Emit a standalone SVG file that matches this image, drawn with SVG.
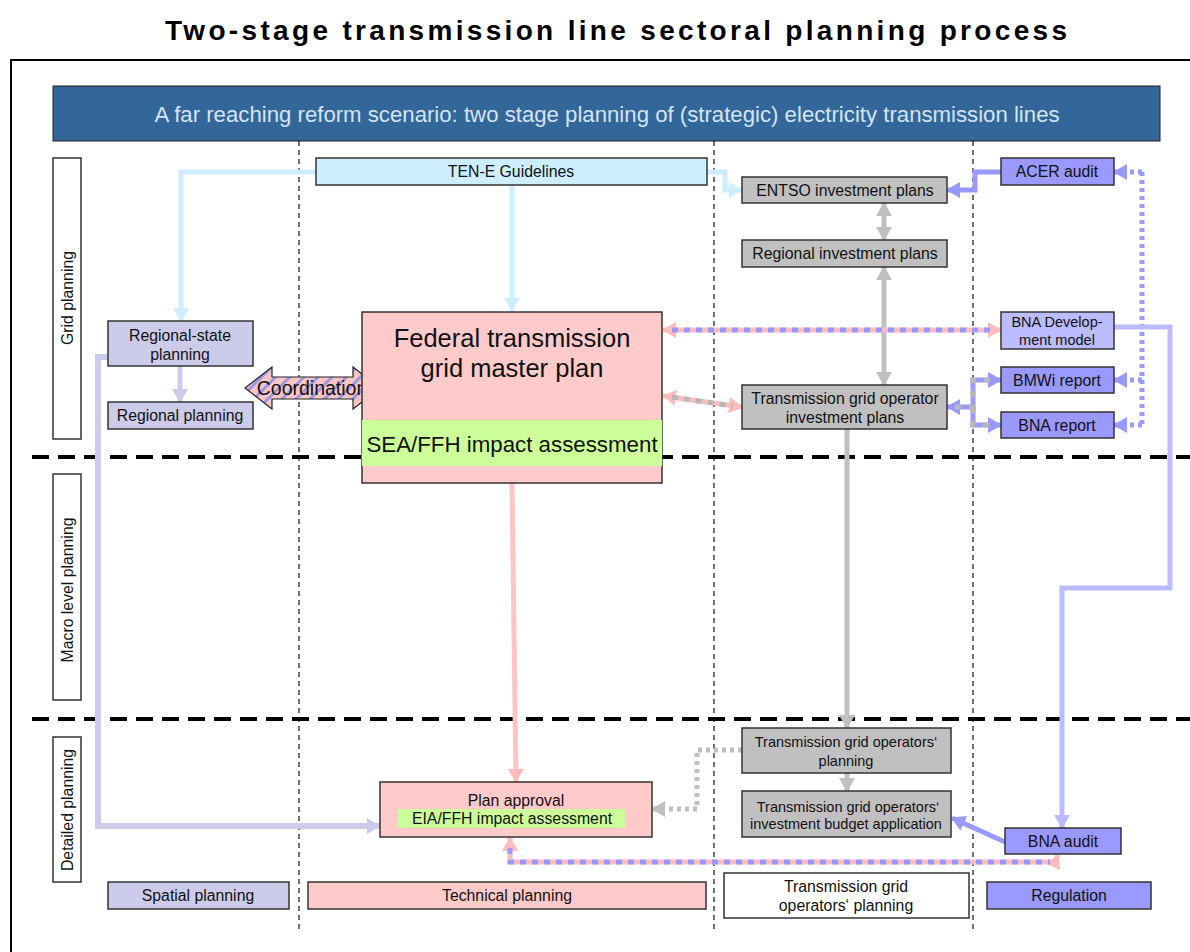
<svg xmlns="http://www.w3.org/2000/svg" width="1190" height="952" viewBox="0 0 1190 952">
<style>
text{font-family:"Liberation Sans",Arial,sans-serif;fill:#111;text-anchor:middle}
.n{stroke:#333;stroke-width:1.5}
.t14{font-size:15.8px}
.t13{font-size:14.5px}
.lav{fill:#ccccea}
.gray{fill:#c0c0c0}
.blue{fill:#9999ff}
.ltb{fill:#cdeeff}
.pink{fill:#ffcaca}
.c{fill:none;stroke-width:5}
.vd{stroke:#111;stroke-width:1.2;stroke-dasharray:5 4}
.hd{stroke:#000;stroke-width:4;stroke-dasharray:17 9}
</style>
<defs>
<marker id="aLB" markerUnits="userSpaceOnUse" markerWidth="14" markerHeight="16" refX="13" refY="8" orient="auto-start-reverse"><path d="M0,0 L14,8 L0,16z" fill="#cdeeff"/></marker>
<marker id="aLav" markerUnits="userSpaceOnUse" markerWidth="14" markerHeight="16" refX="13" refY="8" orient="auto-start-reverse"><path d="M0,0 L14,8 L0,16z" fill="#ccccea"/></marker>
<marker id="aG" markerUnits="userSpaceOnUse" markerWidth="14" markerHeight="16" refX="13" refY="8" orient="auto-start-reverse"><path d="M0,0 L14,8 L0,16z" fill="#c0c0c0"/></marker>
<marker id="aB" markerUnits="userSpaceOnUse" markerWidth="14" markerHeight="16" refX="13" refY="8" orient="auto-start-reverse"><path d="M0,0 L14,8 L0,16z" fill="#9999ff"/></marker>
<marker id="aLtB" markerUnits="userSpaceOnUse" markerWidth="14" markerHeight="16" refX="13" refY="8" orient="auto-start-reverse"><path d="M0,0 L14,8 L0,16z" fill="#bbbbff"/></marker>
<marker id="aP" markerUnits="userSpaceOnUse" markerWidth="14" markerHeight="16" refX="13" refY="8" orient="auto-start-reverse"><path d="M0,0 L14,8 L0,16z" fill="#ffbcbc"/></marker>
<pattern id="stripe" patternUnits="userSpaceOnUse" width="10" height="10" patternTransform="rotate(45)">
<rect width="10" height="10" fill="#ffc4c4"/><rect width="3" height="10" fill="#9a9ae0"/>
</pattern>
</defs>

<rect x="0" y="0" width="1190" height="952" fill="#fff"/>
<text x="616" y="40" font-size="28" font-weight="bold" textLength="902" lengthAdjust="spacing" style="fill:#000">Two-stage transmission line sectoral planning process</text>
<rect x="11" y="60" width="1200" height="1000" fill="none" stroke="#000" stroke-width="2"/>

<g id="banner">
<rect x="53" y="86" width="1107" height="55" fill="#336699" stroke="#222" stroke-width="1"/>
<text x="607" y="122" font-size="22.2" style="fill:#d4e4f4">A far reaching reform scenario: two stage planning of (strategic) electricity transmission lines</text>
</g>

<g id="gridlines">
<line x1="299" y1="141" x2="299" y2="932" class="vd"/>
<line x1="714" y1="141" x2="714" y2="932" class="vd"/>
<line x1="973" y1="141" x2="973" y2="932" class="vd"/>
<line x1="32" y1="457" x2="1190" y2="457" class="hd"/>
<line x1="32" y1="719" x2="1190" y2="719" class="hd"/>
</g>

<g id="lane-labels">
<rect x="53" y="158" width="28" height="281" fill="#fff" class="n"/>
<text class="t14" transform="translate(73,298) rotate(-90)">Grid planning</text>
<rect x="53" y="474" width="28" height="226" fill="#fff" class="n"/>
<text class="t14" transform="translate(73,590) rotate(-90)">Macro level planning</text>
<rect x="53" y="737" width="28" height="145" fill="#fff" class="n"/>
<text class="t14" transform="translate(73,810) rotate(-90)">Detailed planning</text>
</g>

<g id="connectors">
<path d="M316,172 H181 V321" class="c" stroke="#cdeeff" marker-end="url(#aLB)"/>
<path d="M512,185 V311" class="c" stroke="#cdeeff" marker-end="url(#aLB)"/>
<path d="M707,172 H725 V190 H742" class="c" stroke="#cdeeff" marker-end="url(#aLB)"/>
<path d="M1001,172 H975 V190 H947" class="c" stroke="#9999ff" marker-end="url(#aB)"/>
<path d="M884,203 V240" class="c" stroke="#c0c0c0" marker-start="url(#aG)" marker-end="url(#aG)"/>
<path d="M884,267 V385" class="c" stroke="#c0c0c0" marker-start="url(#aG)" marker-end="url(#aG)"/>
<path d="M663,330 H1001" class="c" stroke="#ffbcbc" marker-start="url(#aP)" marker-end="url(#aP)"/>
<path d="M672,330 H992" fill="none" stroke="#9999ff" stroke-width="5" stroke-dasharray="6 6"/>
<path d="M663,396 L742,407" class="c" stroke="#ffbcbc" marker-start="url(#aP)" marker-end="url(#aP)"/>
<path d="M672,397 L733,406" fill="none" stroke="#b8b8b8" stroke-width="5" stroke-dasharray="6 6"/>
<path d="M947,407 H973 V380 H1001" class="c" stroke="#9999ff" marker-start="url(#aB)" marker-end="url(#aB)"/>
<path d="M973,407 V425 H1001" class="c" stroke="#9999ff" marker-end="url(#aB)"/>
<path d="M955,407 H973 V380 H992 M973,407 V425 H992" fill="none" stroke="#b8b8b8" stroke-width="5" stroke-dasharray="6 8"/>
<path d="M1142,172 V425" fill="none" stroke="#9999ff" stroke-width="5" stroke-dasharray="4 4"/>
<path d="M1142,172 H1114" fill="none" stroke="#9999ff" stroke-width="5" stroke-dasharray="4 4" marker-end="url(#aB)"/>
<path d="M1142,380 H1114" fill="none" stroke="#9999ff" stroke-width="5" stroke-dasharray="4 4" marker-end="url(#aB)"/>
<path d="M1142,425 H1114" fill="none" stroke="#9999ff" stroke-width="5" stroke-dasharray="4 4" marker-end="url(#aB)"/>
<path d="M1114,327 H1170 V588 H1062 V828" class="c" stroke="#bbbbff" marker-end="url(#aLtB)"/>
<path d="M1005,842 L952,818" class="c" stroke="#9999ff" marker-end="url(#aB)"/>
<path d="M512,483 L516,782" class="c" stroke="#ffc4c4" marker-end="url(#aP)"/>
<path d="M847,429 V728" class="c" stroke="#c0c0c0" marker-end="url(#aG)"/>
<path d="M847,773 V791" class="c" stroke="#c0c0c0" marker-end="url(#aG)"/>
<path d="M742,750 H697 V809 H652" fill="none" stroke="#c0c0c0" stroke-width="5" stroke-dasharray="4 4" marker-end="url(#aG)"/>
<path d="M108,357 H98 V826 H380" fill="none" stroke="#ccccea" stroke-width="6" marker-end="url(#aLav)"/>
<path d="M180,366 V402" class="c" stroke="#ccccea" marker-end="url(#aLav)"/>
<path d="M510,838 V862 H1055 L1058,855" class="c" stroke="#ffbcbc" marker-start="url(#aP)" marker-end="url(#aP)"/>
<path d="M510,848 V862 H1050" fill="none" stroke="#9999ff" stroke-width="5" stroke-dasharray="6 6"/>
<g id="coordination">
<polygon points="245,388 272,367 272,377 353,377 353,367 380,388 353,409 353,399 272,399 272,409" fill="url(#stripe)" stroke="#222" stroke-width="1.2"/>
<text x="312" y="395" font-size="19.5">Coordination</text>
</g>
</g>

<g id="regional-state">
<rect x="108" y="321" width="145" height="45" class="n lav"/>
<text class="t14" x="180" y="341">Regional-state</text>
<text class="t14" x="180" y="360">planning</text>
</g>
<g id="regional-planning">
<rect x="108" y="402" width="145" height="27" class="n lav"/>
<text class="t14" x="180" y="421">Regional planning</text>
</g>
<g id="ten-e">
<rect x="316" y="158" width="391" height="27" class="n ltb"/>
<text class="t14" x="511" y="177">TEN-E Guidelines</text>
</g>
<g id="entso">
<rect x="742" y="177" width="205" height="26" class="n gray"/>
<text class="t14" x="845" y="196">ENTSO investment plans</text>
</g>
<g id="regional-investment">
<rect x="742" y="240" width="205" height="27" class="n gray"/>
<text class="t14" x="845" y="259">Regional investment plans</text>
</g>
<g id="tgo-investment">
<rect x="742" y="385" width="205" height="44" class="n gray"/>
<text class="t14" x="845" y="404">Transmission grid operator</text>
<text class="t14" x="845" y="423">investment plans</text>
</g>
<g id="acer">
<rect x="1001" y="158" width="113" height="27" class="n blue"/>
<text class="t14" x="1057" y="177">ACER audit</text>
</g>
<g id="bna-dev">
<rect x="1001" y="312" width="113" height="37" class="n" fill="#bbbbff"/>
<text class="t13" x="1057" y="327">BNA Develop-</text>
<text class="t13" x="1057" y="345">ment model</text>
</g>
<g id="bmwi">
<rect x="1001" y="367" width="113" height="26" class="n blue"/>
<text class="t14" x="1057" y="386">BMWi report</text>
</g>
<g id="bna-report">
<rect x="1001" y="412" width="113" height="26" class="n blue"/>
<text class="t14" x="1057" y="431">BNA report</text>
</g>
<g id="federal">
<rect x="362" y="312" width="300" height="171" class="n pink"/>
<rect x="362" y="420" width="300" height="46" fill="#ccff99"/>
<text x="512" y="347" font-size="25.5">Federal transmission</text>
<text x="512" y="377" font-size="25.5">grid master plan</text>
<text x="512" y="452" font-size="22.3">SEA/FFH impact assessment</text>
</g>
<g id="plan-approval">
<rect x="380" y="782" width="272" height="55" class="n pink"/>
<rect x="398" y="809" width="227" height="19" fill="#ccff99"/>
<text class="t14" x="516" y="806">Plan approval</text>
<text class="t14" x="512" y="824">EIA/FFH impact assessment</text>
</g>
<g id="tgo-planning">
<rect x="742" y="728" width="209" height="45" class="n gray"/>
<text class="t13" x="846" y="747">Transmission grid operators‘</text>
<text class="t13" x="846" y="766">planning</text>
</g>
<g id="tgo-budget">
<rect x="742" y="791" width="209" height="46" class="n gray"/>
<text class="t13" x="848" y="812">Transmission grid operators‘</text>
<text class="t13" x="846" y="829">investment budget application</text>
</g>
<g id="bna-audit">
<rect x="1005" y="828" width="116" height="26" class="n blue"/>
<text class="t14" x="1063" y="847">BNA audit</text>
</g>
<g id="legend">
<g id="spatial"><rect x="108" y="882" width="181" height="27" class="n lav"/><text class="t14" x="198" y="901">Spatial planning</text></g>
<g id="technical"><rect x="308" y="882" width="398" height="27" class="n pink"/><text class="t14" x="507" y="901">Technical planning</text></g>
<g id="tgo-legend"><rect x="724" y="873" width="245" height="45" class="n" fill="#fff"/><text class="t14" x="846" y="892">Transmission grid</text><text class="t14" x="846" y="911">operators‘ planning</text></g>
<g id="regulation"><rect x="987" y="882" width="164" height="27" class="n blue"/><text class="t14" x="1069" y="901">Regulation</text></g>
</g>
</svg>
